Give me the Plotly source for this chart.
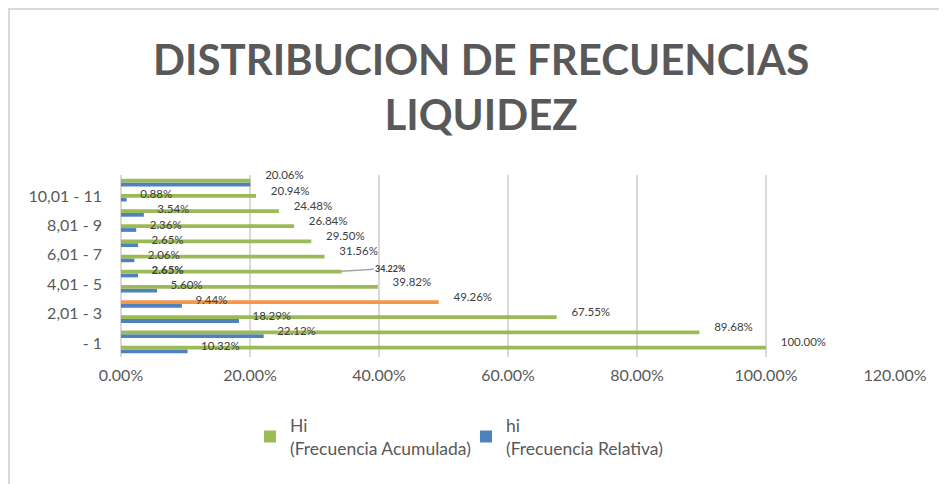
import plotly.graph_objects as go

# ---- data ----
categories = ["- 1", "1,01 - 2", "2,01 - 3", "3,01 - 4", "4,01 - 5", "5,01 - 6",
              "6,01 - 7", "7,01 - 8", "8,01 - 9", "9,01 - 10", "10,01 - 11", "11,01 - 12"]
Hi_acum = [1.0000, 0.8968, 0.6755, 0.4926, 0.3982, 0.3422,
           0.3156, 0.2950, 0.2684, 0.2448, 0.2094, 0.2006]
hi_rel = [0.1032, 0.2212, 0.1829, 0.0944, 0.0560, 0.0265,
          0.0206, 0.0265, 0.0236, 0.0354, 0.0088, 0.2006]
x_ticks = [0, 0.2, 0.4, 0.6, 0.8, 1.0, 1.2]
highlight_idx = 3      # bar drawn in orange
callout_idx = 5        # label with leader line / bold

GREEN = "#9BBB59"
BLUE = "#4F81BD"
ORANGE = "#F79646"
GRAY_TXT = "#404040"
AXIS_TXT = "#595959"
FONT = "Lato"

n = len(categories)
hi_colors = [ORANGE if i == highlight_idx else GREEN for i in range(n)]

fig = go.Figure()
fig.add_trace(go.Bar(
    y=categories, x=hi_rel, orientation="h", name="hi<br>(Frecuencia Relativa)",
    marker=dict(color=BLUE, line=dict(width=0)), legendrank=2, hoverinfo="skip"))
fig.add_trace(go.Bar(
    y=categories, x=Hi_acum, orientation="h", name="Hi<br>(Frecuencia Acumulada)",
    marker=dict(color=hi_colors, line=dict(width=0)), legendrank=1, hoverinfo="skip"))

# data labels (identical labels that would sit on top of each other are shown once)
Hi_text = ["" if i == callout_idx else f"{v*100:.2f}%" for i, v in enumerate(Hi_acum)]
hi_text = []
for i, v in enumerate(hi_rel):
    if f"{v*100:.2f}" == f"{Hi_acum[i]*100:.2f}":
        hi_text.append("")
    elif i == callout_idx:
        hi_text.append(f"<b>{v*100:.2f}%</b>")
    else:
        hi_text.append(f"{v*100:.2f}%")

fig.add_trace(go.Scatter(
    y=categories, x=Hi_acum, yaxis="y2", mode="markers+text", text=Hi_text,
    textposition="middle right", marker=dict(size=22, opacity=0),
    textfont=dict(size=11.5, color=GRAY_TXT, family=FONT),
    showlegend=False, hoverinfo="skip", cliponaxis=False))
fig.add_trace(go.Scatter(
    y=categories, x=hi_rel, yaxis="y3", mode="markers+text", text=hi_text,
    textposition="middle right", marker=dict(size=20, opacity=0),
    textfont=dict(size=11.5, color=GRAY_TXT, family=FONT),
    showlegend=False, hoverinfo="skip", cliponaxis=False))
# invisible carrier trace so the category-label axis (y4) is drawn
fig.add_trace(go.Scatter(
    y=list(range(n)), x=Hi_acum, yaxis="y4", mode="markers",
    marker=dict(size=1, opacity=0), showlegend=False, hoverinfo="skip"))

# callout label with leader line
fig.add_annotation(
    x=Hi_acum[callout_idx], y=categories[callout_idx], xref="x", yref="y3",
    text=f"<b>{Hi_acum[callout_idx]*100:.2f}%</b>",
    showarrow=True, arrowhead=0, arrowwidth=1.5, arrowcolor="#A6A6A6",
    ax=49, ay=-3, standoff=0, font=dict(size=9, color=GRAY_TXT, family=FONT))

# chart title
fig.add_annotation(
    text="<b>DISTRIBUCION DE FRECUENCIAS<br>LIQUIDEZ</b>",
    xref="paper", yref="paper", x=0.465, y=1.489, xanchor="center", yanchor="middle",
    showarrow=False, font=dict(size=42, color=AXIS_TXT, family=FONT))

base_range = [-0.5, n - 0.5]
fig.update_layout(
    width=939, height=476,
    paper_bgcolor="white", plot_bgcolor="white",
    font=dict(family=FONT, color=AXIS_TXT),
    barmode="group", bargap=0.5, bargroupgap=0,
    margin=dict(l=113, r=52, t=167, b=127, autoexpand=False),
    xaxis=dict(range=[0, 1.2], tickvals=x_ticks, tickformat=".2%",
               showgrid=True, gridcolor="#D9D9D9", gridwidth=2,
               zeroline=True, zerolinecolor="#D9D9D9", zerolinewidth=2,
               showline=False, ticks="", tickfont=dict(size=16, color=AXIS_TXT),
               ticklabelstandoff=7, automargin=False),
    yaxis=dict(categoryorder="array", categoryarray=categories, range=base_range,
               showticklabels=False, ticks="", showgrid=False, showline=False,
               automargin=False),
    yaxis2=dict(overlaying="y", categoryorder="array", categoryarray=categories,
                range=[base_range[0] - 0.4, base_range[1] - 0.4], visible=False),
    yaxis3=dict(overlaying="y", categoryorder="array", categoryarray=categories,
                range=[base_range[0] - 0.16, base_range[1] - 0.16], visible=False),
    # category tick labels (every second category, as in the reference)
    yaxis4=dict(overlaying="y", side="left", type="linear", range=[-0.952, 11.43],
                tickmode="array", tickvals=list(range(0, n, 2)), ticktext=categories[::2],
                ticks="", showgrid=False, zeroline=False, showline=False,
                tickfont=dict(size=16, color=AXIS_TXT), ticklabelstandoff=18,
                automargin=False),
    legend=dict(orientation="h", xref="container", x=0.2577, xanchor="left",
                yref="container", y=0.1613, yanchor="top",
                font=dict(size=17.5, color=AXIS_TXT, family=FONT),
                entrywidthmode="pixels", entrywidth=171,
                traceorder="normal", itemclick=False),
    shapes=[dict(type="rect", xref="paper", yref="paper",
                 x0=-0.1447, x1=1.2, y0=-1.0, y1=1.912,
                 line=dict(color="#D9D9D9", width=2), fillcolor="rgba(0,0,0,0)",
                 layer="below")],
)

fig.write_html("out.html")
